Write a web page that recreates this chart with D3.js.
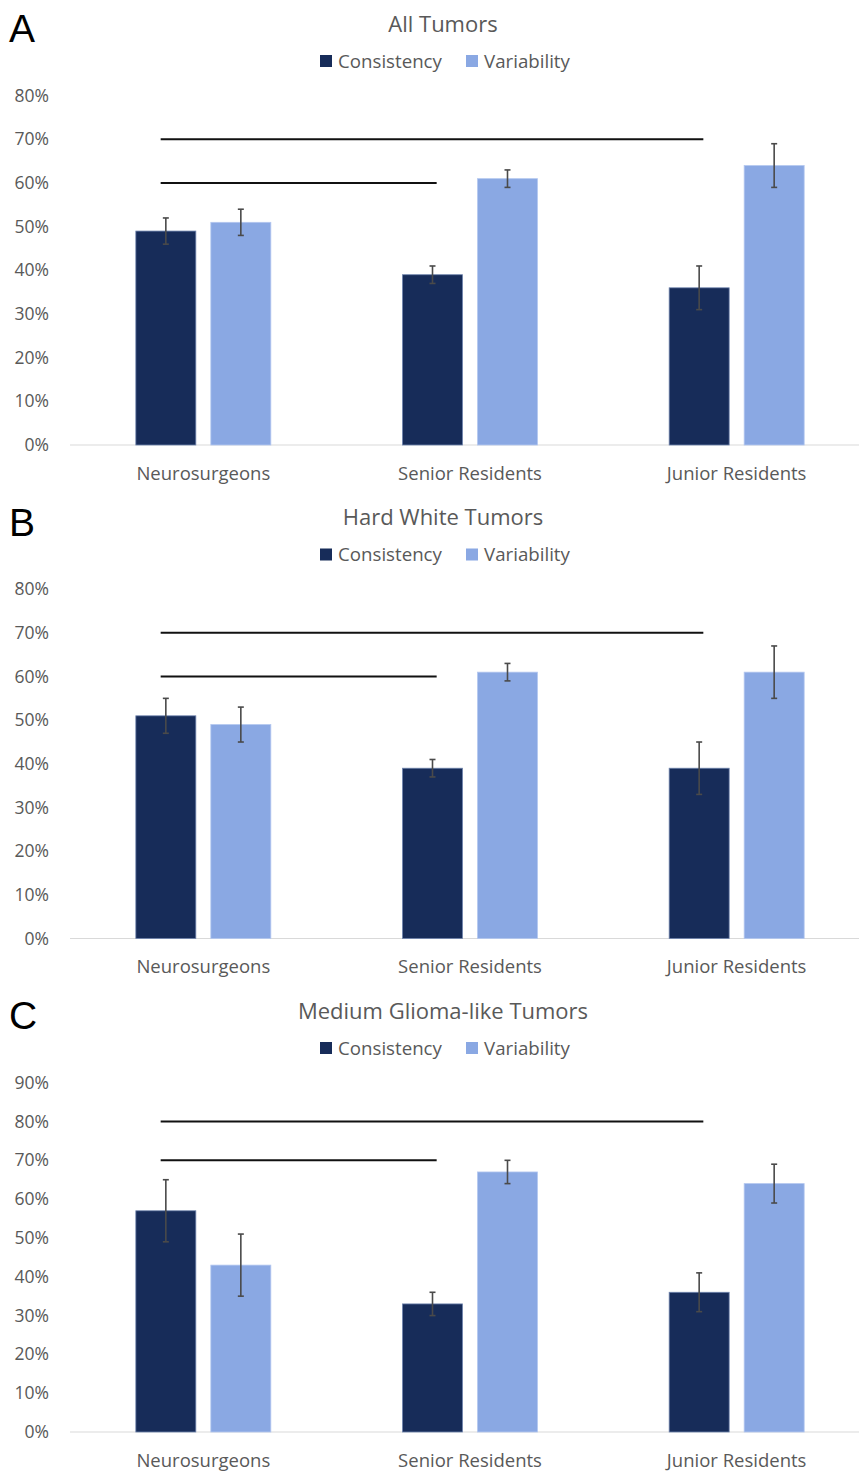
<!DOCTYPE html>
<html>
<head>
<meta charset="utf-8">
<script src="https://cdn.jsdelivr.net/npm/d3@7"></script>
<style>
  html, body { margin: 0; padding: 0; background: #ffffff; }
  svg { display: block; }
  text { font-family: "Open Sans", "Noto Sans", sans-serif; }
</style>
</head>
<body>
<svg id="chart" width="859" height="1472"></svg>
<script>
// Rater groups along the x axis
const groups = ["Neurosurgeons", "Senior Residents", "Junior Residents"];
const seriesNames = ["Consistency", "Variability"];

// One entry per panel
const panelLetters = ["A", "B", "C"];
const panelTitles = ["All Tumors", "Hard White Tumors", "Medium Glioma-like Tumors"];
const yMaxPercent = [80, 80, 90];

// Percent values per group (Neurosurgeons, Senior, Junior)
const consistency = [
  [49, 39, 36],
  [51, 39, 39],
  [57, 33, 36]
];
const variability = [
  [51, 61, 64],
  [49, 61, 61],
  [43, 67, 64]
];
// Half-width of error bars, in percent
const consistencyErr = [
  [3, 2, 5],
  [4, 2, 6],
  [8, 3, 5]
];
const variabilityErr = [
  [3, 2, 5],
  [4, 2, 6],
  [8, 3, 5]
];

// Comparison lines drawn above the bars (level in percent)
const comparisons = [
  [{ from: "Neurosurgeons", to: "Junior Residents", level: 70 },
   { from: "Neurosurgeons", to: "Senior Residents", level: 60 }],
  [{ from: "Neurosurgeons", to: "Junior Residents", level: 70 },
   { from: "Neurosurgeons", to: "Senior Residents", level: 60 }],
  [{ from: "Neurosurgeons", to: "Junior Residents", level: 80 },
   { from: "Neurosurgeons", to: "Senior Residents", level: 70 }]
];

const colors = { Consistency: "#172c59", Variability: "#8aa8e3" };
const edgeColors = { Consistency: "#6f84ad", Variability: "#b3c7ef" };
const textColor = "#595959";

const svg = d3.select("#chart");

const panelStep = 493.5;
const plotTop = 95.7, plotBottom = 445;
const plotLeft = 70, plotRight = 870;

const x = d3.scaleBand().domain(groups).range([plotLeft, plotRight]).paddingInner(0).paddingOuter(0);
const step = x.bandwidth();
const barW = 60, barGap = 15;
const sub = d3.scaleOrdinal().domain(seriesNames).range([-(barGap / 2 + barW), barGap / 2]);

panelTitles.forEach((title, p) => {
  const g = svg.append("g").attr("transform", `translate(0,${p * panelStep})`);

  const y = d3.scaleLinear().domain([0, yMaxPercent[p]]).range([plotBottom, plotTop]);

  // Panel letter
  g.append("text")
    .attr("x", 9).attr("y", 42)
    .style("font-family", "'Liberation Sans', Arial, sans-serif")
    .attr("font-size", 39)
    .attr("fill", "#000")
    .text(panelLetters[p]);

  // Title
  g.append("text")
    .attr("x", 443).attr("y", 31.5)
    .attr("text-anchor", "middle")
    .attr("font-size", 22)
    .attr("fill", textColor)
    .text(title);

  // Legend
  const legendItems = [
    { name: "Consistency", sq: 320, tx: 338 },
    { name: "Variability", sq: 466, tx: 484 }
  ];
  legendItems.forEach(it => {
    g.append("rect")
      .attr("x", it.sq).attr("y", 55).attr("width", 12).attr("height", 12)
      .attr("fill", colors[it.name]);
    g.append("text")
      .attr("x", it.tx).attr("y", 67.5)
      .attr("font-size", 18.7)
      .attr("fill", textColor)
      .text(it.name);
  });

  // Y axis tick labels
  const yAxis = d3.axisLeft(y)
    .tickValues(d3.range(0, yMaxPercent[p] + 1, 10))
    .tickFormat(d => d + "%")
    .tickSize(0)
    .tickPadding(0);
  const ya = g.append("g").attr("transform", "translate(49,0)").call(yAxis);
  ya.select(".domain").remove();
  ya.selectAll("text")
    .attr("font-size", 17.5)
    .attr("fill", textColor)
    .style("font-family", "'Open Sans', 'Noto Sans', sans-serif");

  // Baseline
  g.append("line")
    .attr("x1", plotLeft).attr("x2", 859)
    .attr("y1", y(0)).attr("y2", y(0))
    .attr("stroke", "#d9d9d9").attr("stroke-width", 1);

  // Bars
  const rows = [];
  groups.forEach((grp, i) => {
    rows.push({ grp, series: "Consistency", v: consistency[p][i], e: consistencyErr[p][i] });
    rows.push({ grp, series: "Variability", v: variability[p][i], e: variabilityErr[p][i] });
  });

  g.selectAll("rect.bar").data(rows).enter().append("rect")
    .attr("class", "bar")
    .attr("x", d => x(d.grp) + step / 2 + sub(d.series))
    .attr("y", d => y(d.v))
    .attr("width", barW)
    .attr("height", d => y(0) - y(d.v))
    .attr("fill", d => colors[d.series])
    .attr("stroke", d => edgeColors[d.series])
    .attr("stroke-width", 0.8);

  // Error bars
  const eb = g.selectAll("g.err").data(rows).enter().append("g").attr("class", "err")
    .attr("transform", d => `translate(${x(d.grp) + step / 2 + sub(d.series) + barW / 2},0)`);
  eb.append("line")
    .attr("x1", 0).attr("x2", 0)
    .attr("y1", d => y(d.v + d.e)).attr("y2", d => y(d.v - d.e))
    .attr("stroke", "#4a4a4a").attr("stroke-width", 1.6);
  eb.append("line")
    .attr("x1", -3).attr("x2", 3)
    .attr("y1", d => y(d.v + d.e)).attr("y2", d => y(d.v + d.e))
    .attr("stroke", "#4a4a4a").attr("stroke-width", 1.6);
  eb.append("line")
    .attr("x1", -3).attr("x2", 3)
    .attr("y1", d => y(d.v - d.e)).attr("y2", d => y(d.v - d.e))
    .attr("stroke", "#4a4a4a").attr("stroke-width", 1.6);

  // Comparison lines
  g.selectAll("line.cmp").data(comparisons[p]).enter().append("line")
    .attr("class", "cmp")
    .attr("x1", d => x(d.from) + step / 2 - 0.16 * step)
    .attr("x2", d => x(d.to) + step / 2 - 0.125 * step)
    .attr("y1", d => y(d.level)).attr("y2", d => y(d.level))
    .attr("stroke", "#111").attr("stroke-width", 2);

  // Category labels
  g.selectAll("text.cat").data(groups).enter().append("text")
    .attr("class", "cat")
    .attr("x", d => x(d) + step / 2)
    .attr("y", y(0) + 34.5)
    .attr("text-anchor", "middle")
    .attr("font-size", 18.5)
    .attr("fill", textColor)
    .text(d => d);
});
</script>
</body>
</html>
